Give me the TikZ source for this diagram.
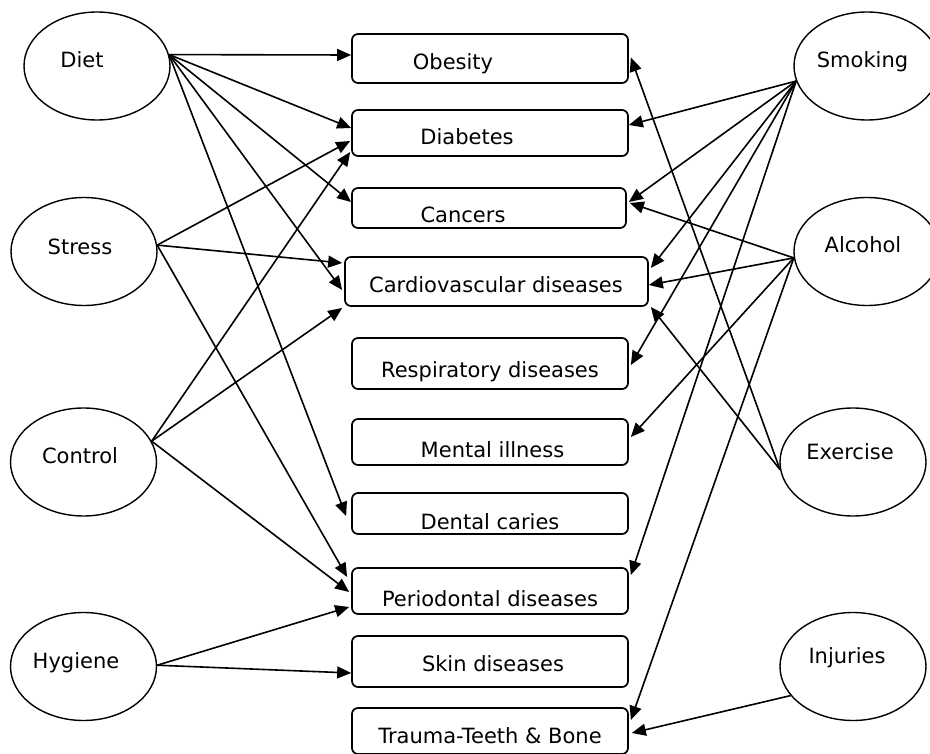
\documentclass[tikz,border=0pt]{standalone}
\usepackage{fontspec}
\setmainfont{DejaVu Sans}
\usetikzlibrary{shapes.geometric,arrows.meta}
\tikzset{
  oval/.style={ellipse,draw,line width=1.4pt,inner sep=0pt,minimum width=146pt,minimum height=108pt},
  dbox/.style={rectangle,draw,line width=1.7pt,rounded corners=6pt,inner sep=0pt},
  lbl/.style={anchor=base,inner sep=0pt,font=\fontsize{21}{25}\selectfont},
  arr/.style={line width=1.6pt,-{Triangle[length=14pt,width=12pt]}}
}
\begin{document}
\begin{tikzpicture}[x=1pt,y=-1pt]
\useasboundingbox (0,0) rectangle (930,754);
\clip (0,0) rectangle (930,754);
% factor ellipses
\node[oval] (diet) at (97,66) {};
\node[oval] (stress) at (84,251.5) {};
\node[oval] (control) at (83.5,462) {};
\node[oval] (hygiene) at (83.5,666.5) {};
\node[oval] (smoking) at (867,66) {};
\node[oval] (alcohol) at (867,251.5) {};
\node[oval] (exercise) at (853,462) {};
\node[oval] (injuries) at (853,666.5) {};
\node[lbl] (dietT) at (82,68) {Diet};
\node[lbl] (stressT) at (80,255) {Stress};
\node[lbl] (controlT) at (80,463) {Control};
\node[lbl] (hygieneT) at (76,668) {Hygiene};
\node[lbl] (smokingT) at (862.5,68) {Smoking};
\node[lbl] (alcoholT) at (863,253) {Alcohol};
\node[lbl] (exerciseT) at (850,459) {Exercise};
\node[lbl] (injuriesT) at (847,663) {Injuries};
% disease boxes
\node[dbox,minimum width=276pt,minimum height=49pt] (ob) at (490,58.5) {};
\node[dbox,minimum width=276pt,minimum height=46pt] (diab) at (490,133) {};
\node[dbox,minimum width=274pt,minimum height=40pt] (canc) at (489,208) {};
\node[dbox,minimum width=303pt,minimum height=49pt] (cvd) at (496.5,281.5) {};
\node[dbox,minimum width=276pt,minimum height=51pt] (resp) at (490,363.5) {};
\node[dbox,minimum width=276pt,minimum height=46pt] (ment) at (490,442) {};
\node[dbox,minimum width=276pt,minimum height=41pt] (dent) at (490,513.5) {};
\node[dbox,minimum width=276pt,minimum height=46pt] (perio) at (490,591) {};
\node[dbox,minimum width=276pt,minimum height=51pt] (skin) at (490,661.5) {};
\node[dbox,minimum width=276pt,minimum height=46pt] (trauma) at (490,731) {};
\node[lbl] (obT) at (453,70) {Obesity};
\node[lbl] (diabT) at (467,145) {Diabetes};
\node[lbl] (cancT) at (463,223) {Cancers};
\node[lbl] (cvdT) at (496,293) {Cardiovascular diseases};
\node[lbl] (respT) at (490,377.5) {Respiratory diseases};
\node[lbl] (mentT) at (492.5,457) {Mental illness};
\node[lbl] (dentT) at (490,529) {Dental caries};
\node[lbl] (perioT) at (490,606) {Periodontal diseases};
\node[lbl] (skinT) at (493,671) {Skin diseases};
\node[lbl] (traumaT) at (490,743) {Trauma-Teeth \& Bone};
% Diet
\draw[arr] (diet.9) -- ([yshift=3.5pt]ob.west);
\draw[arr] (diet.9) -- ([yshift=5pt]diab.west);
\draw[arr] (diet.9) -- ([yshift=6pt]canc.west);
\draw[arr] (diet.9) -- ([xshift=-2pt,yshift=-8.5pt]cvd.west);
\draw[arr] (diet.9) -- ([xshift=-5pt,yshift=-2.5pt]dent.west);
% Stress
\draw[arr] (stress.5) -- ([xshift=-1pt,yshift=-8pt]diab.west);
\draw[arr] (stress.5) -- ([xshift=-2pt,yshift=18.5pt]cvd.west);
\draw[arr] (stress.5) -- ([xshift=-4pt,yshift=14pt]perio.west);
% Control
\draw[arr] (control.17) -- ([xshift=-1pt,yshift=-19pt]diab.west);
\draw[arr] (control.17) -- ([xshift=-2pt,yshift=-26.5pt]cvd.west);
\draw[arr] (control.17) -- ([xshift=-2pt,yshift=-1pt]perio.west);
% Hygiene
\draw[arr] (hygiene.1) -- ([xshift=-2pt,yshift=-16pt]perio.west);
\draw[arr] (hygiene.1) -- ([yshift=-11.5pt]skin.west);
% Smoking
\draw[arr] (smoking.192) -- ([yshift=8pt]diab.east);
\draw[arr] (smoking.192) -- ([xshift=2pt,yshift=6pt]canc.east);
\draw[arr] (smoking.192) -- ([xshift=2pt,yshift=13.5pt]cvd.east);
\draw[arr] (smoking.192) -- ([xshift=2pt,yshift=-1.5pt]resp.east);
\draw[arr] (smoking.192) -- ([xshift=2pt,yshift=16pt]perio.east);
% Alcohol
\draw[arr] (alcohol.185) -- ([xshift=3pt,yshift=5pt]canc.east);
\draw[arr] (alcohol.185) -- ([yshift=-3.5pt]cvd.east);
\draw[arr] (alcohol.185) -- ([xshift=2pt,yshift=5pt]ment.east);
\draw[arr] (alcohol.185) -- ([xshift=2pt,yshift=11pt]trauma.east);
% Exercise
\draw[arr] (exercise.186) -- ([xshift=2pt,yshift=1pt]ob.east);
\draw[arr] (exercise.186) -- ([xshift=2pt,yshift=-25.5pt]cvd.east);
% Injuries
\draw[arr] (injuries.205) -- ([xshift=3pt,yshift=-2pt]trauma.east);
\end{tikzpicture}
\end{document}
